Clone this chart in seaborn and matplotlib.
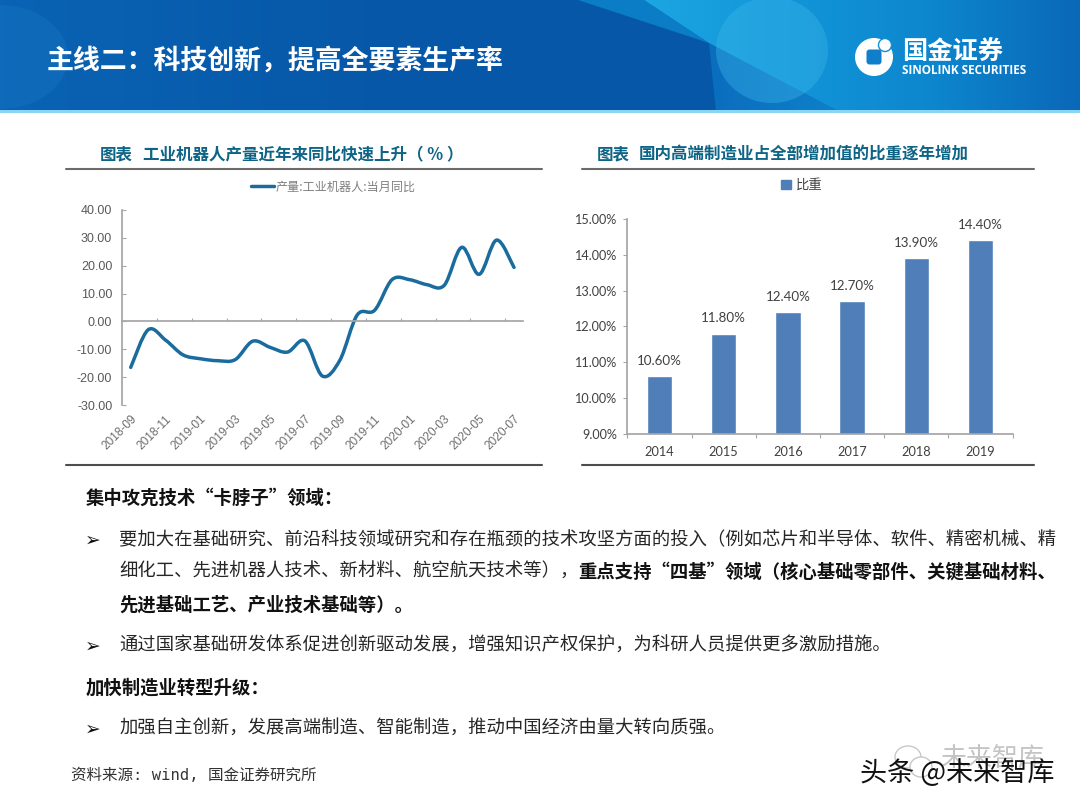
import numpy as np
import pandas as pd
import matplotlib
matplotlib.use('Agg')
import matplotlib.pyplot as plt
import seaborn as sns
from matplotlib.colors import LinearSegmentedColormap
from matplotlib.lines import Line2D
from matplotlib.patches import Ellipse, FancyBboxPatch, Patch, PathPatch, Polygon
from matplotlib.path import Path

months = ['2018-09', '2018-10', '2018-11', '2018-12', '2019-01', '2019-02', '2019-03', '2019-04',
          '2019-05', '2019-06', '2019-07', '2019-08', '2019-09', '2019-10', '2019-11', '2019-12',
          '2020-01', '2020-02', '2020-03', '2020-04', '2020-05', '2020-06', '2020-07']
robot_yoy = [-16.5, -3.0, -6.7, -12.0, -13.4, -14.1, -13.7, -7.1, -9.3, -11.0, -7.0, -19.6,
             -14.0, 2.3, 4.0, 15.0, 15.0, 13.2, 13.0, 26.6, 16.9, 29.2, 19.4]
years = ['2014', '2015', '2016', '2017', '2018', '2019']
share = [10.6, 11.8, 12.4, 12.7, 13.9, 14.4]

W, H = 1080, 810
CJK = ['Noto Sans CJK SC', 'DejaVu Sans']
TEAL = '#0E6485'
LINE_BLUE = '#1B6C9E'
BAR_BLUE = '#4F7EB8'
GREY = '#595959'

sns.set_theme(style='white')
plt.rcParams['font.family'] = CJK


def axes_px(fig, left, top, right, bottom):
    return fig.add_axes([left / W, 1 - bottom / H, (right - left) / W, (bottom - top) / H])


def smooth_path(xs, ys):
    # office style smoothed line through the monthly values
    pts = np.column_stack([xs, ys])
    verts = [pts[0]]
    codes = [Path.MOVETO]
    for i in range(len(pts) - 1):
        prev_pt = pts[max(i - 1, 0)]
        next_pt = pts[min(i + 2, len(pts) - 1)]
        verts += [pts[i] + (pts[i + 1] - prev_pt) / 6, pts[i + 1] - (next_pt - pts[i]) / 6, pts[i + 1]]
        codes += [Path.CURVE4] * 3
    return Path(verts, codes)


def gradient(ax, stops, extent, clip=None, alpha=1.0):
    cmap = LinearSegmentedColormap.from_list('g', stops)
    im = ax.imshow(np.linspace(0, 1, 256).reshape(1, -1), cmap=cmap, extent=extent,
                   aspect='auto', alpha=alpha, zorder=1)
    if clip is not None:
        ax.add_patch(clip)
        clip.set_visible(False)
        im.set_clip_path(clip)
    return im


fig = plt.figure(figsize=(W / 100, H / 100), dpi=100, facecolor='white')

# page layer in pixel coordinates
bg = fig.add_axes([0, 0, 1, 1], zorder=0)
gradient(bg, ['#0A63B4', '#0758A8', '#0657A8', '#0A6AB9'], (0, W, 112, 0))
bg.set_xlim(0, W)
bg.set_ylim(H, 0)
bg.axis('off')

bg.add_patch(Ellipse((0, 57), 136, 104, color='#1A7CC8', alpha=0.3, lw=0, zorder=2))
wedge = Polygon([(578, 0), (644, 0), (709, 43)], closed=True, color='#0B7CC6', lw=0, zorder=2)
bg.add_patch(wedge)
under = Polygon([(709, 43), (840, 112), (716, 112)], closed=True, transform=bg.transData)
gradient(bg, ['#0A6CBD', '#0F82CB'], (700, 850, 112, 0), clip=under).set_zorder(2)
light = Polygon([(644, 0), (709, 43), (840, 112), (1080, 112), (1080, 0)], closed=True, transform=bg.transData)
gradient(bg, ['#1CA6E2', '#1295D8', '#0D86CE', '#0A68B8'], (644, 1080, 112, 0), clip=light).set_zorder(3)
bg.add_patch(Ellipse((772, 50), 112, 106, color='#3DB8EA', alpha=0.38, lw=0, zorder=4))
bg.add_patch(Polygon([(0, 110), (W, 110), (W, 113), (0, 113)], closed=True, color='#8AD6F2', lw=0, zorder=5))

bg.text(47, 61, '主线二：科技创新，提高全要素生产率', color='white', fontsize=19.4, fontweight='bold',
        va='center', ha='left', zorder=6)

# logo
bg.add_patch(Ellipse((874, 57), 38, 38, color='white', lw=0, zorder=6))
bg.add_patch(Ellipse((885, 45), 13, 13, facecolor='white', ec='#1190D6', lw=1, zorder=6))
bg.add_patch(FancyBboxPatch((868, 51), 12, 12, boxstyle='round,pad=1.5,rounding_size=3', color='#0F7FC9', lw=0, zorder=7))
bg.text(902, 52, '国金证券', color='white', fontsize=18.2, fontweight='bold', va='center', ha='left', zorder=6)
bg.text(902, 70, 'SINOLINK SECURITIES', color='white', fontsize=8.5, fontweight='bold', family='Open Sans',
        va='center', ha='left', zorder=6)

# chart titles and rules
bg.text(100, 154, '图表', color=TEAL, fontsize=11.9, fontweight='bold', va='center', zorder=6)
bg.text(143, 154, '工业机器人产量近年来同比快速上升（ % ）', color=TEAL, fontsize=11.9, fontweight='bold', va='center', zorder=6)
bg.text(597, 154, '图表', color=TEAL, fontsize=11.9, fontweight='bold', va='center', zorder=6)
bg.text(639, 154, '国内高端制造业占全部增加值的比重逐年增加', color=TEAL, fontsize=11.9, fontweight='bold', va='center', zorder=6)
for x0, x1 in [(66, 542), (582, 1034)]:
    bg.plot([x0, x1], [169, 169], color='#6B6B6B', lw=1.5, zorder=6)
    bg.plot([x0, x1], [465, 465], color='#4D4D4D', lw=1.5, zorder=6)

# body text
BODY = 13.2
DARK = '#262626'
bg.text(86, 498, '集中攻克技术“卡脖子”领域：', color='#111111', fontsize=BODY, fontweight='bold', va='center', zorder=6)
bg.text(119, 540, '要加大在基础研究、前沿科技领域研究和存在瓶颈的技术攻坚方面的投入（例如芯片和半导体、软件、精密机械、精',
        color=DARK, fontsize=BODY, va='center', zorder=6)
bg.text(119, 572, '细化工、先进机器人技术、新材料、航空航天技术等），', color=DARK, fontsize=BODY, va='center', zorder=6)
bg.text(578, 572, '重点支持“四基”领域（核心基础零部件、关键基础材料、', color='#111111', fontsize=BODY, fontweight='bold',
        va='center', zorder=6)
bg.text(119, 605, '先进基础工艺、产业技术基础等）。', color='#111111', fontsize=BODY, fontweight='bold', va='center', zorder=6)
bg.text(119, 646, '通过国家基础研发体系促进创新驱动发展，增强知识产权保护，为科研人员提供更多激励措施。',
        color=DARK, fontsize=BODY, va='center', zorder=6)
bg.text(86, 688, '加快制造业转型升级：', color='#111111', fontsize=BODY, fontweight='bold', va='center', zorder=6)
bg.text(119, 729, '加强自主创新，发展高端制造、智能制造，推动中国经济由量大转向质强。',
        color=DARK, fontsize=BODY, va='center', zorder=6)
for y in [540, 646, 729]:
    bg.text(93, y, '➢', color='#111111', fontsize=13.5, family='DejaVu Sans', ha='center', va='center', zorder=6)

# footer and watermark
bg.text(71, 775, '资料来源: wind, 国金证券研究所', color='#333333', fontsize=11.2,
        family=['DejaVu Sans Mono', 'Noto Sans CJK SC'], va='center', zorder=6)
bg.add_patch(Ellipse((908, 757), 26, 22, fill=False, ec='#C8C8C8', lw=1, zorder=6))
bg.add_patch(Ellipse((921, 767), 22, 20, facecolor='white', ec='#C8C8C8', lw=1, zorder=6))
bg.text(940, 758, '未来智库', color='#C4C4C4', fontsize=18.7, va='center', zorder=6)
bg.text(860, 773, '头条 @未来智库', color='#111111', fontsize=19.5, va='center', zorder=7)

# left chart: monthly yoy line
robot_df = pd.DataFrame({'month': months, 'yoy': robot_yoy})
ax1 = axes_px(fig, 122, 210, 522.7, 405)
ax1.set_zorder(2)
ax1.patch.set_alpha(0)
sns.lineplot(data=robot_df, x='month', y='yoy', color=LINE_BLUE, sort=False, ax=ax1)
# seaborn line sets the scale, the smoothed path through the same values is what shows
ax1.lines[0].set_visible(False)
ax1.add_patch(PathPatch(smooth_path(np.arange(len(months)), robot_yoy), fill=False, ec=LINE_BLUE, lw=2.5,
                        capstyle='round', joinstyle='round'))
for s in ['top', 'right']:
    ax1.spines[s].set_visible(False)
ax1.spines['bottom'].set_position(('data', 0))
ax1.spines['bottom'].set_color('#A6A6A6')
ax1.spines['left'].set_color('#A6A6A6')
ax1.set_xlim(-0.5, len(months) - 0.5)
ax1.set_ylim(-30, 40)
ax1.set_yticks(np.arange(-30, 41, 10))
ax1.set_yticklabels([f'{v:.2f}' for v in np.arange(-30, 41, 10)], family='Liberation Sans', fontsize=9, color=GREY)
ax1.set_xticks(range(0, len(months), 2))
ax1.set_xticklabels(months[::2], rotation=45, ha='right', rotation_mode='anchor', family='Liberation Sans',
                    fontsize=8.6, color='#6E6E6E')
ax1.set_xticks(np.arange(1.5, len(months) - 1, 2), minor=True)
ax1.set_xlabel('')
ax1.set_ylabel('')
ax1.tick_params(axis='x', which='major', length=0, pad=66)
ax1.tick_params(axis='x', which='minor', direction='in', length=2.5, width=0.8, color='#A6A6A6', bottom=True)
ax1.tick_params(axis='y', direction='in', length=3, width=0.8, color='#A6A6A6', left=True, pad=7)
ax1.legend(handles=[Line2D([], [], color=LINE_BLUE, lw=2.5)], labels=['产量:工业机器人:当月同比'],
           loc='center', bbox_to_anchor=(333 / W, 1 - 187 / H), bbox_transform=fig.transFigure, frameon=False,
           fontsize=8.7, labelcolor='#7F7F7F', handlelength=1.9, handletextpad=0.15)

# right chart: share bars
share_df = pd.DataFrame({'year': years, 'share': share})
ax2 = axes_px(fig, 627.3, 219, 1012.7, 433.7)
ax2.set_zorder(2)
ax2.patch.set_alpha(0)
sns.barplot(data=share_df, x='year', y='share', color=BAR_BLUE, saturation=1, width=0.4, ax=ax2)
ax2.bar_label(ax2.containers[0], labels=[f'{v:.2f}%' for v in share], padding=6.5, family='Lato', fontsize=9.6, color='#404040')
ax2.set_xlim(-0.5, len(years) - 0.5)
ax2.set_ylim(9, 15)
ax2.set_yticks(np.arange(9, 16))
ax2.set_yticklabels([f'{v:.2f}%' for v in np.arange(9, 16)], family='Lato', fontsize=9.1, color='#404040')
ax2.set_xticks(range(len(years)))
ax2.set_xticklabels(years, family='Lato', fontsize=9.2, color='#404040')
ax2.set_xticks(np.arange(-0.5, len(years)), minor=True)
ax2.set_xlabel('')
ax2.set_ylabel('')
for s in ['top', 'right']:
    ax2.spines[s].set_visible(False)
ax2.spines['bottom'].set_color('#A6A6A6')
ax2.spines['left'].set_color('#A6A6A6')
ax2.tick_params(axis='x', which='major', length=0, pad=9)
ax2.tick_params(axis='x', which='minor', direction='out', length=3, width=0.8, color='#A6A6A6', bottom=True)
ax2.tick_params(axis='y', direction='out', length=3, width=0.8, color='#A6A6A6', left=True, pad=4.5)
ax2.legend(handles=[Patch(color=BAR_BLUE)], labels=['比重'], loc='center', bbox_to_anchor=(802 / W, 1 - 185 / H),
           bbox_transform=fig.transFigure, frameon=False, fontsize=9.6, labelcolor='#404040',
           handlelength=0.7, handleheight=0.7, handletextpad=0.4)

fig.savefig('out.png', dpi=100)
